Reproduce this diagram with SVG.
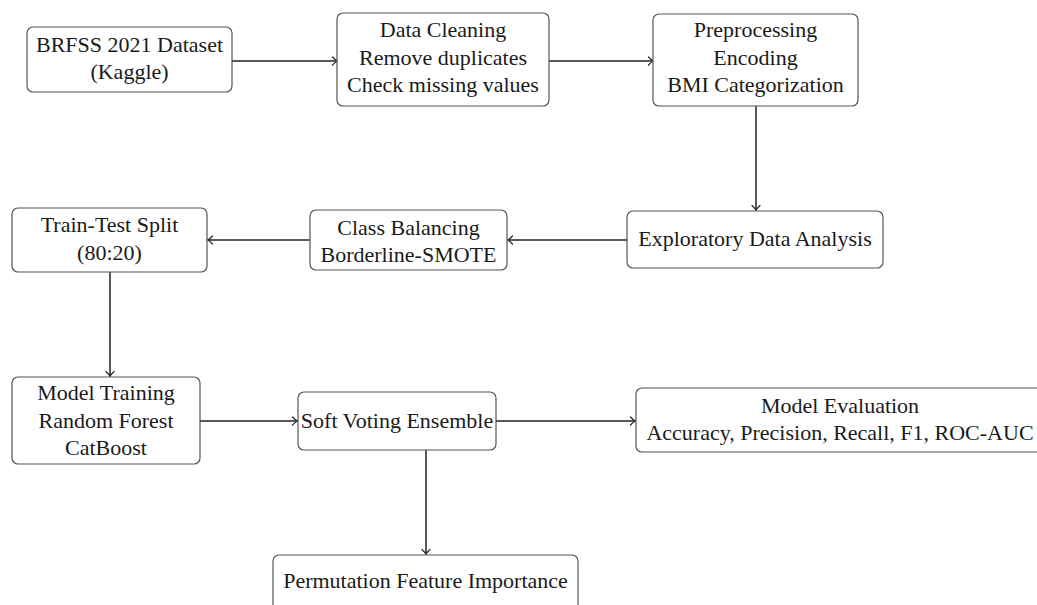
<svg xmlns="http://www.w3.org/2000/svg" width="1037" height="605" viewBox="0 0 1037 605">
<style>
.box{fill:#fff;stroke:#555;stroke-width:1.2}
.t{font-family:'Liberation Serif','DejaVu Serif',serif;font-size:22px;fill:#1a1a1a;text-anchor:middle}
.c{fill:none;stroke:#222;stroke-width:1.5}
</style>
<defs>
<marker id="arr" markerUnits="userSpaceOnUse" markerWidth="12" markerHeight="12" refX="0" refY="0" viewBox="-6 -6 12 12" orient="auto" overflow="visible">
<path d="M -4.5 -4 Q -1.5 -0.8 0.5 0 Q -1.5 0.8 -4.5 4" fill="none" stroke="#222" stroke-width="1.2" stroke-linecap="round"/>
</marker>
</defs>
<rect width="1037" height="605" fill="#fff"/>
<g id="connectors">
<line class="c" x1="232" y1="61" x2="337" y2="61" marker-end="url(#arr)"/>
<line class="c" x1="549" y1="61" x2="653" y2="61" marker-end="url(#arr)"/>
<line class="c" x1="756" y1="106" x2="756" y2="210" marker-end="url(#arr)"/>
<line class="c" x1="627" y1="240" x2="508" y2="240" marker-end="url(#arr)"/>
<line class="c" x1="310" y1="240" x2="208" y2="240" marker-end="url(#arr)"/>
<line class="c" x1="110" y1="272" x2="110" y2="376" marker-end="url(#arr)"/>
<line class="c" x1="200" y1="421" x2="297" y2="421" marker-end="url(#arr)"/>
<line class="c" x1="496" y1="421" x2="635" y2="421" marker-end="url(#arr)"/>
<line class="c" x1="426" y1="450" x2="426" y2="554" marker-end="url(#arr)"/>
</g>
<g id="n1">
<rect class="box" x="27" y="27" width="205" height="65" rx="6"/>
<text class="t" font-family="Liberation Serif" x="129.5" y="52">BRFSS 2021 Dataset</text>
<text class="t" font-family="Liberation Serif" x="129.5" y="79">(Kaggle)</text>
</g>
<g id="n2">
<rect class="box" x="337" y="13" width="212" height="93" rx="6"/>
<text class="t" x="443" y="37">Data Cleaning</text>
<text class="t" x="443" y="65">Remove duplicates</text>
<text class="t" x="443" y="92">Check missing values</text>
</g>
<g id="n3">
<rect class="box" x="653" y="14" width="205" height="92" rx="6"/>
<text class="t" x="755.5" y="37">Preprocessing</text>
<text class="t" x="755.5" y="65">Encoding</text>
<text class="t" x="755.5" y="92">BMI Categorization</text>
</g>
<g id="n4">
<rect class="box" x="627" y="211" width="256" height="57" rx="6"/>
<text class="t" x="755" y="246">Exploratory Data Analysis</text>
</g>
<g id="n5">
<rect class="box" x="310" y="210" width="197" height="60" rx="6"/>
<text class="t" x="408.5" y="235">Class Balancing</text>
<text class="t" x="408.5" y="262">Borderline-SMOTE</text>
</g>
<g id="n6">
<rect class="box" x="12" y="208" width="195" height="64" rx="6"/>
<text class="t" x="109.5" y="232">Train-Test Split</text>
<text class="t" x="109.5" y="260">(80:20)</text>
</g>
<g id="n7">
<rect class="box" x="12" y="377" width="188" height="87" rx="6"/>
<text class="t" x="106" y="400">Model Training</text>
<text class="t" x="106" y="428">Random Forest</text>
<text class="t" x="106" y="455">CatBoost</text>
</g>
<g id="n8">
<rect class="box" x="298" y="392" width="198" height="58" rx="6"/>
<text class="t" x="397" y="428">Soft Voting Ensemble</text>
</g>
<g id="n9">
<rect class="box" x="636" y="388" width="408" height="64" rx="6"/>
<text class="t" x="840" y="413">Model Evaluation</text>
<text class="t" x="840" y="440">Accuracy, Precision, Recall, F1, ROC-AUC</text>
</g>
<g id="n10">
<rect class="box" x="273" y="555" width="305" height="70" rx="6"/>
<text class="t" x="425.5" y="588">Permutation Feature Importance</text>
</g>
</svg>
